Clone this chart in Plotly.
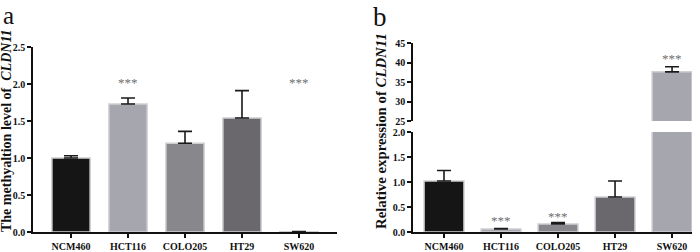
import plotly.graph_objects as go

categories = ["NCM460", "HCT116", "COLO205", "HT29", "SW620"]
colors = ["#151515", "#a6a6ae", "#88888c", "#6a686c", "#a6a6ae"]

# Panel a: methylation level
meth_values = [1.00, 1.73, 1.20, 1.54, 0.005]
meth_err = [0.03, 0.08, 0.16, 0.37, 0.0]
meth_stars = ["", "***", "", "", "***"]
meth_star_y = [None, 2.0, None, None, 2.0]

# Panel b: relative expression
expr_values = [1.02, 0.06, 0.16, 0.70, 37.6]
expr_err = [0.21, 0.01, 0.03, 0.32, 1.3]
expr_stars = ["", "***", "***", "", "***"]
expr_star_y = [None, 0.21, 0.28, None, 40.6]

a_ticks = [0.0, 0.5, 1.0, 1.5, 2.0, 2.5]
b_low_ticks = [0.0, 0.5, 1.0, 1.5, 2.0]
b_high_ticks = [25, 30, 35, 40, 45]

W, H = 700, 252
FONT = "Liberation Serif"

def px(x):
    return x / W

def py(y):
    return (H - y) / H

fig = go.Figure()

def bars(xa, ya, vals, errs, width, show_err=True):
    fig.add_trace(go.Bar(
        x=categories, y=vals, xaxis=xa, yaxis=ya, width=width,
        marker=dict(color=colors, line=dict(color="#cfcfd3", width=1.5)),
        error_y=dict(type="data", array=errs, arrayminus=[0]*len(errs), symmetric=False,
                     color="#1a1a1a", thickness=1.6, width=7, visible=show_err),
        showlegend=False, hoverinfo="skip"))

bars("x", "y", meth_values, meth_err, 0.67)
bars("x2", "y2", expr_values, expr_err, 0.70)
bars("x2", "y3", expr_values, expr_err, 0.70)

star_font = dict(family=FONT, size=13, color="#6e6e6e")
for c, s, yv in zip(categories, meth_stars, meth_star_y):
    if s:
        fig.add_annotation(x=c, y=yv, xref="x", yref="y", text=s, showarrow=False,
                           font=star_font, yanchor="bottom", yshift=-8)
for i, (c, s, yv) in enumerate(zip(categories, expr_stars, expr_star_y)):
    if s:
        yr = "y3" if yv > 2 else "y2"
        fig.add_annotation(x=c, y=yv, xref="x2", yref=yr, text=s, showarrow=False,
                           font=star_font, yanchor="bottom", yshift=-8)

tickfont = dict(family=FONT, size=10, color="#111111", weight="bold")
axis_common = dict(showline=True, linecolor="#111111", linewidth=1.5, ticks="outside",
                   ticklen=4, tickwidth=1.5, tickcolor="#111111", showgrid=False,
                   zeroline=False, tickfont=tickfont, fixedrange=True, automargin=False)

fig.update_layout(
    template="none",
    width=W, height=H, margin=dict(l=0, r=0, t=0, b=0, pad=0),
    paper_bgcolor="white", plot_bgcolor="white", bargap=0.3,
    xaxis=dict(domain=[px(33), px(337)], range=[-0.667, 4.667], anchor="y", **axis_common),
    yaxis=dict(domain=[py(232), py(47)], range=[0, 2.5], anchor="x", tickvals=a_ticks,
               tickformat=".1f", **axis_common),
    xaxis2=dict(domain=[px(413), px(692)], range=[-0.544, 4.35], anchor="y2", **axis_common),
    yaxis2=dict(domain=[py(232), py(132)], range=[0, 2.0], anchor="x2", tickvals=b_low_ticks,
                tickformat=".1f", **axis_common),
    yaxis3=dict(domain=[py(121), py(43)], range=[25, 45], anchor="x2", tickvals=b_high_ticks,
                **axis_common),
)

title_font = dict(family=FONT, size=14, color="#111111", weight="bold")
fig.add_annotation(x=px(7), y=py(131), xref="paper", yref="paper", xanchor="center",
                   yanchor="middle",
                   text="The methyaltion level of  <i>CLDN11</i>", textangle=-90, showarrow=False,
                   font=title_font)
fig.add_annotation(x=px(381), y=py(131), xref="paper", yref="paper", xanchor="center",
                   yanchor="middle",
                   text="Relative expression of <i>CLDN11</i>", textangle=-90, showarrow=False,
                   font=dict(title_font, size=14.8))

fig.add_annotation(x=px(1), y=py(0), xref="paper", yref="paper", text="a", showarrow=False,
                   xanchor="left", yanchor="top", font=dict(family=FONT, size=25, color="#111111"))
fig.add_annotation(x=px(371), y=py(0), xref="paper", yref="paper", text="b", showarrow=False,
                   xanchor="left", yanchor="top", font=dict(family=FONT, size=27, color="#111111"))

fig.write_html("out.html", config={"displayModeBar": False},
               post_script="document.body.style.margin='0';document.body.style.overflow='hidden';")
